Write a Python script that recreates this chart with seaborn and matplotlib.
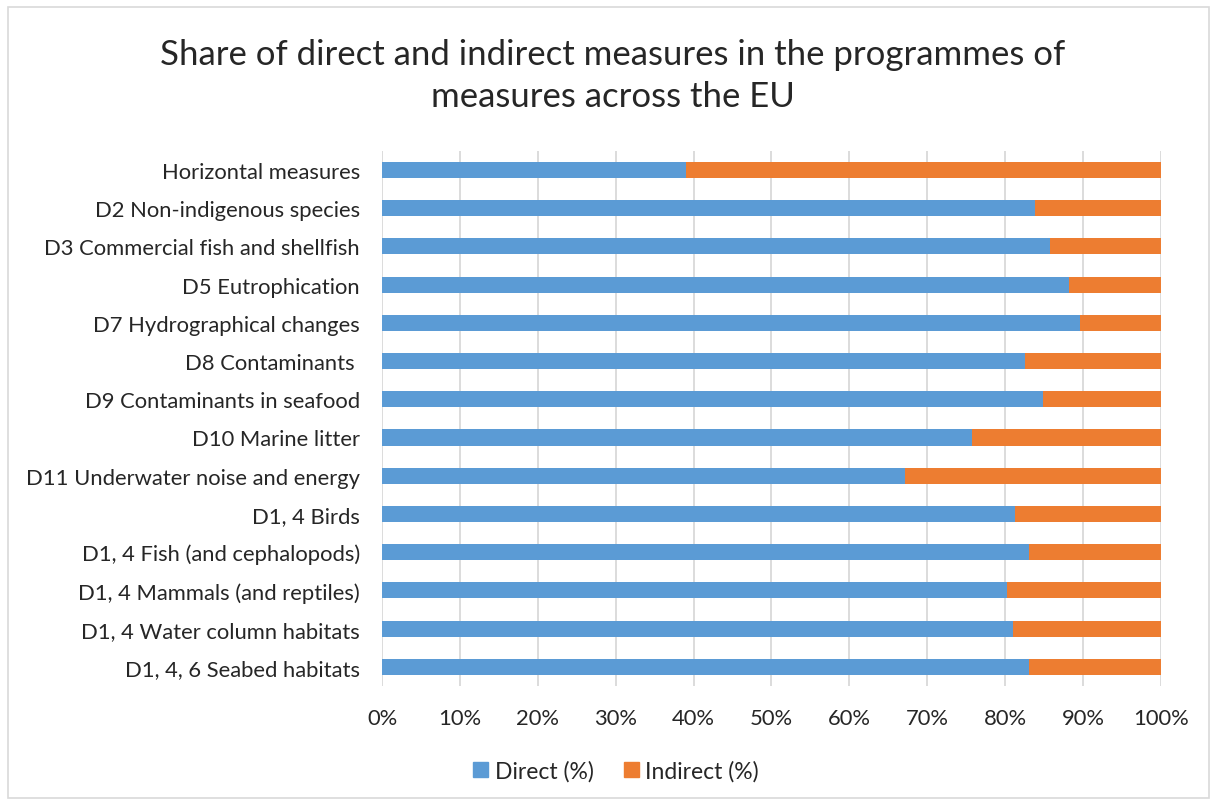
import pandas as pd
import matplotlib.pyplot as plt
import seaborn as sns
from matplotlib.patches import Rectangle, Patch
from matplotlib.ticker import PercentFormatter

# 数据 (从上到下)
categories = [
    'Horizontal measures',
    'D2 Non-indigenous species',
    'D3 Commercial fish and shellfish',
    'D5 Eutrophication',
    'D7 Hydrographical changes',
    'D8 Contaminants ',
    'D9 Contaminants in seafood',
    'D10 Marine litter',
    'D11 Underwater noise and energy',
    'D1, 4 Birds',
    'D1, 4 Fish (and cephalopods)',
    'D1, 4 Mammals (and reptiles)',
    'D1, 4 Water column habitats',
    'D1, 4, 6 Seabed habitats',
]
direct = [39.0, 83.9, 85.8, 88.2, 89.6, 82.6, 84.9, 75.8, 67.1, 81.3, 83.1, 80.2, 81.0, 83.1]
indirect = [61.0, 16.1, 14.2, 11.8, 10.4, 17.4, 15.1, 24.2, 32.9, 18.7, 16.9, 19.8, 19.0, 16.9]
xticks = [0, 10, 20, 30, 40, 50, 60, 70, 80, 90, 100]

BLUE = '#5B9BD5'
ORANGE = '#ED7D31'

sns.set_theme(style='white')
plt.rcParams['font.family'] = ['Lato', 'DejaVu Sans']

df = pd.DataFrame({'category': categories, 'direct': direct, 'indirect': indirect})
df['total'] = df['direct'] + df['indirect']

fig = plt.figure(figsize=(12.13, 8.03), dpi=100)
ax = fig.add_axes([0.315, 0.1445, 0.642, 0.6665])

# 堆叠条形图：先画总量(橙色)，再画直接措施(蓝色)
sns.barplot(data=df, y='category', x='total', color=ORANGE, width=0.42,
            linewidth=0, saturation=1, ax=ax)
sns.barplot(data=df, y='category', x='direct', color=BLUE, width=0.42,
            linewidth=0, saturation=1, ax=ax)

ax.set_xlim(0, 100)
ax.set_ylim(len(categories) - 0.5, -0.5)
ax.set_xticks(xticks)
ax.xaxis.set_major_formatter(PercentFormatter(decimals=0))
ax.grid(axis='x', color='#D9D9D9', linewidth=1.3)
ax.set_axisbelow(True)
for s in ax.spines.values():
    s.set_visible(False)
ax.set_xlabel('')
ax.set_ylabel('')
ax.tick_params(axis='both', length=0, labelsize=15.8, colors='#262626')
ax.tick_params(axis='y', pad=16)
ax.tick_params(axis='x', pad=16)

fig.text(0.505, 0.905, 'Share of direct and indirect measures in the programmes of\nmeasures across the EU',
         ha='center', va='center', fontsize=25, color='#262626', linespacing=1.4)

handles = [Patch(color=BLUE, label='Direct (%)'), Patch(color=ORANGE, label='Indirect (%)')]
fig.legend(handles=handles, loc='center', bbox_to_anchor=(0.508, 0.039), ncol=2,
           frameon=False, fontsize=16.5, handlelength=0.65, handleheight=0.65,
           handletextpad=0.3, columnspacing=1.3, labelcolor='#262626')

# 图表外框
fig.patches.append(Rectangle((0.007, 0.005), 0.99, 0.985, transform=fig.transFigure,
                             fill=False, edgecolor='#D9D9D9', linewidth=1.2))

plt.savefig('out.png', dpi=100)
plt.close()
